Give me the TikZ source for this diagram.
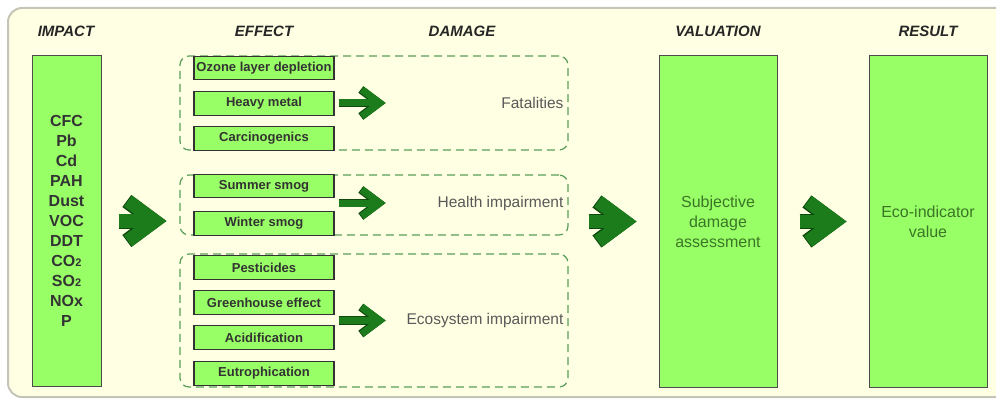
\documentclass[tikz,border=0pt]{standalone}
\usepackage{fontspec}
\setmainfont{Liberation Sans}
\usetikzlibrary{arrows.meta}

\definecolor{paper}{HTML}{FFFFE3}
\definecolor{frameline}{HTML}{C4C4B8}
\definecolor{boxgreen}{HTML}{99FF66}
\definecolor{arrowgreen}{HTML}{1C7C1C}
\definecolor{arrowedge}{HTML}{0E4A0E}
\definecolor{dashgreen}{HTML}{5A9E5A}
\definecolor{textgreen}{HTML}{3B7526}

\tikzset{
  colhead/.style={font=\fontsize{15}{18}\selectfont\bfseries\itshape, text=black!85},
  effect/.style={draw=black!80, line width=1.2pt, fill=boxgreen, minimum width=140pt,
    minimum height=23.5pt, inner sep=0pt, font=\fontsize{13}{15}\selectfont\bfseries, text=black!80},
  column/.style={draw=black!70, line width=1pt, fill=boxgreen, minimum width=118pt,
    minimum height=331pt, inner sep=0pt, align=center, font=\fontsize{16}{20}\selectfont, text=textgreen},
  group/.style={draw=dashgreen, line width=1.2pt, dash pattern=on 8pt off 5pt,
    rounded corners=9pt, inner sep=0pt, minimum width=388pt},
  dmg/.style={font=\fontsize{15.5}{18}\selectfont, text=black!65, inner sep=0pt},
  fatarrow/.style={line width=13.5pt, arrowgreen, -{Straight Barb[sharp, length=27pt, width=40pt]},
    preaction={draw=arrowedge, line width=15pt}},
  thinarrow/.style={line width=7pt, arrowgreen, -{Straight Barb[sharp, length=18pt, width=27pt]},
    preaction={draw=arrowedge, line width=8.2pt}}
}

\begin{document}
\begin{tikzpicture}[x=1pt,y=1pt]
\useasboundingbox (0,0) rectangle (996,-401);
% paper, runs off on the right
\draw[frameline, line width=2pt, fill=paper, rounded corners=14pt] (8,-8) rectangle (1014,-397);

% column heads
\node[colhead] (hImpact) at (66,-31) {IMPACT};
\node[colhead] (hEffect) at (264,-31) {EFFECT};
\node[colhead] (hDamage) at (462,-31) {DAMAGE};
\node[colhead] (hValuation) at (718,-31) {VALUATION};
\node[colhead] (hResult) at (928,-31) {RESULT};

% substances
\node[column, minimum width=69pt, minimum height=330pt, text=black!80,
  font=\fontsize{16}{20}\selectfont\bfseries] (impact) at (66.5,-221)
  {CFC\\Pb\\Cd\\PAH\\Dust\\VOC\\DDT\\CO{\fontsize{11}{11}\selectfont 2}\\SO{\fontsize{11}{11}\selectfont 2}\\NOx\\P};

% damage groups (drawn first, the boxes sit on the dashes)
\node[group, minimum height=94pt] (fatalGrp) at (374,-103) {};
\node[group, minimum height=60pt] (healthGrp) at (374,-205) {};
\node[group, minimum height=133pt] (ecoGrp) at (374,-320.5) {};

% effects
\node[effect] (ozone) at (264,-68) {Ozone layer depletion};
\node[effect] (heavy) at (264,-103.5) {Heavy metal};
\node[effect] (carcino) at (264,-138.5) {Carcinogenics};
\node[effect] (summer) at (264,-186) {Summer smog};
\node[effect] (winter) at (264,-223.5) {Winter smog};
\node[effect] (pest) at (264,-267.5) {Pesticides};
\node[effect] (green) at (264,-302.5) {Greenhouse effect};
\node[effect] (acid) at (264,-337.5) {Acidification};
\node[effect] (eutro) at (264,-373.5) {Eutrophication};

% damage labels
\node[dmg, anchor=east] (fatal) at ([xshift=-5pt]fatalGrp.east) {Fatalities};
\node[dmg, anchor=east] (health) at ([xshift=-5pt,yshift=2pt]healthGrp.east) {Health impairment};
\node[dmg, anchor=east] (eco) at ([xshift=-5pt]ecoGrp.east) {Ecosystem impairment};

% valuation and result
\node[column] (valuation) at (718,-221.5) {Subjective\\damage\\assessment};
\node[column] (result) at (928,-221.5) {Eco-indicator\\value};

% arrows
\draw[thinarrow] ([xshift=4pt]heavy.east |- fatalGrp.east) -- ++(47,0);
\draw[thinarrow] ([xshift=4pt]winter.east |- health.west) -- ++(47,0);
\draw[thinarrow] ([xshift=4pt]green.east |- ecoGrp.east) -- ++(47,0);
\draw[fatarrow] ([xshift=17pt]impact.east) -- ([xshift=-13pt]healthGrp.west |- impact.east);
\draw[fatarrow] ([xshift=-70pt]valuation.west) -- ([xshift=-22pt]valuation.west);
\draw[fatarrow] ([xshift=22pt]valuation.east) -- ([xshift=-22pt]result.west);
\end{tikzpicture}
\end{document}
